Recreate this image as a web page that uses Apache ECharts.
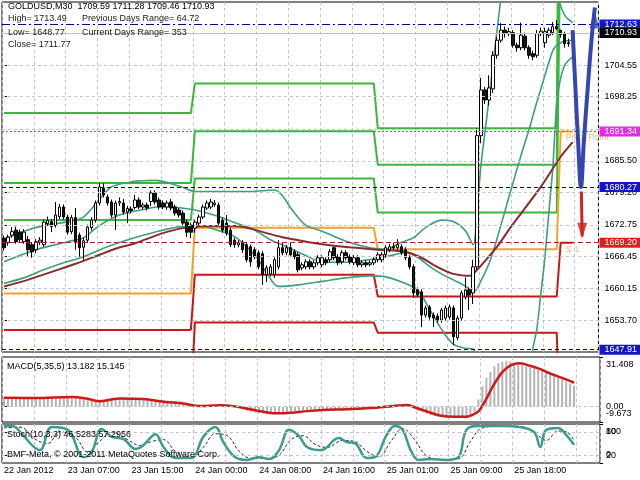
<!DOCTYPE html>
<html><head><meta charset="utf-8">
<script src="https://cdn.jsdelivr.net/npm/echarts@6/dist/echarts.min.js"></script>
<style>html,body{margin:0;padding:0;background:#fff}#c{width:640px;height:480px}</style>
</head><body><div id="c"></div>
<script>
// ---------- data ----------
const timeLabels = ['22 Jan 2012','23 Jan 07:00','23 Jan 15:00','24 Jan 00:00','24 Jan 08:00','24 Jan 16:00','25 Jan 01:00','25 Jan 09:00','25 Jan 18:00','',''];
const slotCount = 150;
const opens = [1670.1,1669.2,1670.7,1671.7,1671.3,1669.4,1669.8,1668.8,1667.8,1669.3,1668.8,1673.0,1673.4,1672.6,1674.4,1676.3,1674.3,1671.4,1674.2,1670.7,1668.3,1669.7,1672.2,1673.7,1677.1,1680.1,1678.3,1677.3,1674.7,1677.1,1677.1,1675.3,1675.9,1676.2,1677.7,1676.3,1676.7,1677.4,1679.1,1677.7,1677.1,1676.3,1677.3,1676.3,1675.7,1675.1,1673.3,1672.7,1672.1,1673.1,1674.3,1676.1,1676.3,1676.8,1676.7,1673.7,1673.1,1671.7,1669.7,1668.8,1669.2,1668.8,1668.4,1667.8,1667.2,1667.0,1662.8,1663.0,1662.8,1664.4,1668.2,1667.2,1668.2,1667.4,1666.8,1664.2,1664.4,1665.4,1664.4,1665.2,1664.8,1665.8,1665.8,1668.2,1666.4,1665.4,1667.2,1666.4,1665.2,1666.2,1664.8,1665.2,1664.9,1665.2,1665.8,1665.8,1666.8,1667.8,1668.4,1668.2,1668.4,1667.8,1666.2,1664.4,1659.8,1659.4,1654.8,1656.4,1654.8,1654.6,1653.8,1654.2,1654.4,1656.2,1650.3,1654.2,1658.4,1659.8,1659.2,1664.4,1690.5,1699.6,1697.6,1699.8,1706.5,1709.5,1711.5,1710.8,1711.0,1708.5,1708.0,1710.3,1708.0,1706.8,1706.5,1710.8,1709.0,1710.5,1711.0,1712.2,1711.5,1710.8,1709.0,1709.59];
const highs = [1670.6,1670.8,1672.3,1672.4,1671.8,1671.9,1670.5,1669.3,1669.9,1670.3,1673.8,1674.4,1673.9,1677.3,1676.9,1676.8,1674.8,1674.7,1676.1,1671.2,1670.2,1672.8,1674.3,1677.6,1681.1,1681.1,1678.8,1677.8,1677.6,1678.2,1677.9,1676.5,1676.4,1678.7,1678.2,1677.2,1677.2,1679.6,1679.6,1678.2,1677.6,1677.6,1677.9,1676.8,1676.1,1675.6,1673.8,1673.2,1673.8,1674.8,1676.8,1677.6,1677.9,1677.7,1677.2,1674.2,1674.7,1672.2,1670.2,1669.7,1669.7,1669.2,1668.8,1668.3,1667.7,1667.5,1664.7,1664.9,1666.3,1669.7,1669.3,1668.8,1669.3,1667.9,1667.3,1665.3,1665.9,1665.9,1665.7,1666.7,1666.7,1666.3,1667.9,1668.4,1666.9,1667.7,1667.7,1666.9,1666.7,1666.7,1665.7,1665.7,1665.7,1666.3,1667.3,1667.3,1668.7,1669.0,1669.2,1669.9,1668.9,1668.3,1666.7,1664.9,1660.3,1659.9,1656.7,1656.8,1655.3,1655.1,1656.2,1656.7,1656.9,1656.7,1654.7,1659.7,1662.3,1660.3,1665.8,1692.0,1702.0,1700.2,1702.5,1707.3,1710.2,1712.9,1712.2,1712.0,1711.5,1709.0,1713.0,1711.0,1708.5,1707.4,1711.5,1712.0,1712.0,1712.0,1713.1,1713.49,1711.53,1711.2,1709.8,1711.28];
const lows = [1667.6,1668.6,1670.2,1669.0,1669.2,1669.0,1666.4,1666.2,1667.1,1668.7,1668.4,1672.5,1671.3,1672.2,1673.9,1673.8,1670.8,1670.9,1667.8,1666.4,1665.8,1669.2,1671.6,1673.2,1676.6,1678.2,1676.6,1674.2,1671.7,1676.5,1674.8,1673.1,1675.0,1675.8,1675.9,1675.8,1675.6,1676.5,1676.8,1675.8,1675.9,1675.7,1675.6,1674.6,1674.2,1672.6,1670.3,1670.1,1671.2,1672.6,1673.9,1675.7,1675.9,1676.3,1672.6,1671.2,1670.6,1668.3,1668.2,1668.3,1667.2,1665.3,1664.4,1665.9,1663.9,1660.8,1661.4,1662.5,1662.2,1663.9,1666.7,1666.7,1666.3,1665.9,1663.3,1663.7,1663.9,1663.9,1663.9,1664.7,1664.3,1664.7,1665.3,1665.7,1664.7,1664.9,1665.7,1664.9,1664.7,1664.3,1664.3,1664.3,1664.5,1664.7,1665.3,1665.3,1666.3,1667.3,1667.8,1667.7,1666.7,1665.7,1663.9,1658.2,1658.3,1652.4,1654.3,1653.9,1652.4,1653.3,1653.3,1653.7,1653.9,1648.77,1649.8,1653.7,1657.9,1655.8,1657.0,1663.8,1689.0,1696.8,1696.5,1699.0,1705.8,1709.0,1710.0,1710.3,1708.0,1707.2,1707.5,1707.5,1705.8,1705.5,1706.0,1710.3,1708.0,1710.0,1710.5,1711.5,1710.0,1708.0,1708.2,1709.46];
const closes = [1668.2,1670.3,1671.4,1669.4,1669.8,1671.3,1667.8,1667.4,1669.4,1669.7,1673.3,1673.6,1672.4,1674.7,1676.3,1674.3,1671.3,1674.2,1669.4,1668.2,1669.6,1672.3,1673.7,1677.1,1680.3,1678.7,1677.1,1674.7,1677.1,1677.4,1675.3,1676.0,1675.6,1677.7,1676.3,1676.7,1676.1,1679.1,1677.3,1676.3,1676.3,1677.1,1676.1,1675.1,1674.7,1673.1,1671.3,1671.3,1673.3,1674.3,1676.3,1677.1,1677.3,1677.1,1673.1,1671.7,1671.1,1668.8,1668.8,1669.2,1667.8,1665.8,1665.4,1666.4,1664.4,1662.8,1664.2,1664.4,1665.8,1668.2,1667.2,1668.2,1666.8,1666.4,1663.8,1664.8,1665.4,1664.4,1665.2,1666.2,1666.2,1665.2,1667.4,1666.2,1665.2,1667.2,1666.2,1665.4,1666.2,1664.8,1665.2,1664.8,1665.2,1665.8,1666.8,1666.8,1668.2,1668.4,1668.2,1668.8,1667.2,1666.2,1664.4,1659.2,1658.8,1654.8,1656.2,1654.4,1654.2,1653.8,1655.8,1656.2,1656.4,1650.5,1654.2,1659.2,1659.8,1658.8,1664.4,1690.5,1699.6,1697.6,1700.0,1706.5,1709.5,1711.5,1710.8,1711.2,1708.5,1708.0,1710.5,1708.0,1706.5,1706.2,1710.8,1711.3,1711.2,1711.5,1712.2,1711.77,1710.6,1708.8,1708.8,1710.93];
// moving average and bollinger bands, read at sampled bars [bar, price]
const maLine = [[0,1660.5],[6,1661.8],[12,1663.4],[18,1665.0],[24,1666.8],[28,1668.0],[33,1669.1],[40,1671.1],[45,1672.1],[51,1672.5],[58,1672.5],[62,1672.0],[66,1671.1],[70,1670.3],[74,1669.7],[80,1668.9],[87,1668.3],[94,1667.8],[101,1667.4],[105,1666.2],[108,1664.8],[111,1663.6],[113,1663.0],[117,1662.6],[119,1663.8],[121,1665.6],[124,1668.4],[127,1671.8],[130,1675.0],[135,1680.3],[140,1686.3],[143,1689.2]];
const bandUpper = [[0,1669.9],[5,1671.5],[10,1672.6],[16,1673.4],[20,1674.3],[24,1677.8],[27,1680.3],[32,1681.3],[38,1681.6],[44,1680.5],[48,1679.4],[56,1679.4],[62,1679.4],[68,1679.7],[70,1678.6],[72,1676.2],[74,1674.2],[76,1672.6],[80,1671.5],[86,1669.5],[92,1668.2],[96,1667.9],[100,1669.3],[103,1670.2],[106,1672.2],[110,1673.7],[113,1673.4],[116,1671.6],[118,1668.8],[119,1676],[120,1685],[121,1691.5],[122,1698],[123,1705],[124,1711.5],[125,1718],[126,1723],[130,1728],[135,1728],[138,1726],[139,1719],[140,1716.3],[141,1714.5],[142,1713.6],[143,1713.0]];
const bandMiddle = [[0,1665.4],[8,1667.8],[16,1669.4],[20,1670.2],[24,1672.6],[29,1674.7],[35,1675.8],[40,1676.4],[48,1675.7],[54,1674.4],[58,1673.2],[63,1671.7],[67,1669.8],[71,1668.4],[76,1666.6],[80,1665.4],[86,1665.3],[90,1665.6],[96,1666.4],[101,1667.2],[104,1666.3],[107,1664.5],[110,1663.0],[113,1661.8],[116,1660.6],[118,1659.5],[119,1660.1],[120,1661.7],[121,1663.3],[122,1665.1],[123,1667.4],[124,1670.0],[125,1672.8],[126,1675.5],[127,1678.4],[128,1681.1],[129,1683.8],[130,1686.5],[131,1689.1],[132,1691.6],[133,1694.4],[134,1697.2],[135,1699.8],[136,1702.4],[137,1705.0],[138,1707.4],[139,1708.5],[140,1709.0],[141,1709.4],[142,1709.4],[143,1709.5]];
const bandLower = [[0,1661.1],[5,1662.2],[10,1663.8],[15,1665.2],[20,1666.4],[26,1668.4],[32,1670.0],[37,1671.1],[45,1672.4],[50,1672.4],[54,1671.6],[58,1670.4],[61,1668.4],[64,1665.8],[66,1663.2],[69,1660.5],[74,1660.8],[80,1661.5],[86,1662.2],[92,1662.6],[96,1662.4],[100,1661.4],[104,1659.8],[107,1656.0],[110,1652.0],[113,1649.0],[116,1648.2],[118,1648.0],[119,1645.4],[120,1638.7],[122,1630],[126,1620],[130,1625],[132,1638],[133,1648],[134,1652],[135,1659],[136,1666],[137,1675],[138,1684],[139,1697],[140,1702],[141,1704.5],[142,1705.5],[143,1706.2]];
// daily pivot levels (one value per day)
const dayRanges = [[0,47],[48,93],[94,139],[140,143]];
const pivR3 = [1695.0,1700.9,1692.0,1798.6];
const pivR2 = [1681.1,1691.4,1684.7,1756.1];
const pivR1 = [1673.7,1682.0,1675.2,1733.9];
const pivP  = [1659.1,1672.2,1667.9,1691.34];
const pivS1 = [1651.85,1662.8,1658.5,1669.2];
const pivS2 = [1637.3,1653.3,1651.3,1626.6];
const pivS3 = [1622.0,1643.6,1641.0,1604.5];
// MACD
const macdHist = [6.0,6.1,6.2,6.3,6.2,6.0,5.8,5.6,5.4,5.3,5.5,5.8,6.0,6.2,6.4,6.5,
 6.6,6.5,6.2,5.7,5.1,4.6,4.1,3.7, 3.5,3.8,4.3,4.9,5.4,5.6,5.5,5.3,
 5.0,4.9,4.8,4.7,4.6,4.6,4.5,4.3,4.1,3.9,3.7,3.5, 3.1,2.5,1.7,1.0,0.5,0.4,0.6,1.0,1.3,1.5,
 1.4,1.1,0.6,0.1,-0.4,-1.1,-1.8,-2.5,-3.1,-3.7, -4.1,-4.4,-4.7,-4.8,-4.8,-4.5,-4.0,-3.5,-3.1,-2.8,
 -2.5,-2.2,-2.0,-1.8,-1.7,-1.7,-1.8,-1.9,-1.9,-1.8, -1.7,-1.6,-1.6,-1.5,-1.4,-1.2,-1.0,-0.7,-0.4,-0.1,
 0.3,0.7,1.0,1.3,1.5,1.6,1.5,1.1,0.2,-1.2, -2.5,-3.4,-4.5,-5.4,-5.9,-6.3,-6.5,-6.6,-6.5,-6.5,-6.6,-6.4,-6.0,-5.0,-3.3,
 4.6,12.9,18.1,22.0,25.5,27.5,28.5,29.0,28.6,27.8,27.0,26.3,25.6,24.9,24.2,23.3,22.6,21.8,21.0,20.2,19.0,17.6,16.0,14.6,13.182];
const macdSignal = [[0,5.6],[8,5.5],[17,6.2],[21,5.0],[24,3.4],[27,4.6],[29,5.2],[35,4.8],[40,3.1],[45,2.0],[49,0.4],[54,0.9],[58,0.2],[62,-1.8],[66,-3.6],[69,-4.2],[72,-3.8],[76,-2.8],[80,-2.1],[86,-1.6],[92,-0.8],[96,0],[99,0.7],[101,1.0],[104,-1.3],[107,-3.8],[110,-5.9],[113,-6.3],[116,-6.3],[118,-4.5],[119,-3.0],[120,0.5],[121,5],[122,10],[123,14.5],[124,18.5],[125,21.8],[126,24.2],[127,26.0],[128,27.0],[129,27.5],[130,27.3],[132,25.8],[134,24.2],[137,21.0],[140,18.2],[143,15.145]];
// Stochastic
const stochMain = [[0,95],[2,95],[4.5,75],[7,46],[9,33],[12,92],[16,85],[20,15],[22,28],[24.5,87],[27,67],[30,61],[33,36],[35,46],[38,74],[40,41],[43,13],[47,13],[50,67],[53,92],[55,54],[58,15],[61,8],[64,15],[66.5,10],[69,33],[71.5,85],[74,69],[76,41],[79.5,33],[84,64],[86,54],[88,51],[91,13],[93,15],[96,72],[98,95],[100,85],[102,33],[104,8],[107,10],[111,8],[114,15],[116,85],[119,95],[125,95],[129.5,92],[133,79],[134.5,41],[136,85],[139,90],[141,72],[143,46.5283]];
const stochSignal = [[0,90],[4,92],[8,60],[11,50],[14,80],[18,65],[21,28],[24,55],[27,78],[31,60],[34,45],[37,55],[40,60],[43,30],[47,15],[50,40],[53,75],[56,70],[59,30],[62,12],[66,12],[69,20],[72,60],[75,70],[78,48],[81,40],[85,58],[88,55],[91,30],[94,16],[97,55],[100,88],[103,60],[106,18],[110,9],[114,11],[117,55],[120,90],[126,95],[130,93],[134,70],[136,58],[139,82],[141,80],[143,57.2956]];
// price axis tick labels and horizontal grid levels
const priceTicks = [1653.70,1660.15,1666.45,1672.75,1679.20,1685.50,1698.25,1704.55];
const priceGrid = [1653.70,1660.15,1666.45,1672.75,1679.20,1685.50,1691.80,1698.25,1704.55];
const macdMin = -9.673, macdMax = 31.408;
const macdMidTicks = [0];
const stochMidTicks = [20, 80];
// drawn objects (analyst arrows) in [bar, price]
const blueArrow = [[143,1711.5],[143.7,1700],[144.4,1689],[145.1,1680.3],[145.8,1689],[146.8,1700],[147.8,1710],[148.6,1716]];
const redArrow = [[145.2,1679.4],[145.4,1670.5]];

// ---------- chart ----------
const FONT = 'Liberation Sans';
const FS = 9;
const cats = Array.from({length: slotCount}, (_, i) => String(i));
const stepPts = lv => dayRanges.flatMap((d, k) => [[d[0], lv[k]], [d[1], lv[k]]]);
const GL = 2, GR = 40;
const vSplit = {show: true, interval: 7, lineStyle: {color: '#c4c4c4', type: [3, 3], width: 1}};
function catAxis(gi, showLabels) {
  return {type: 'category', gridIndex: gi, data: cats, boundaryGap: true,
    axisLine: {show: false}, axisTick: {show: false}, splitLine: vSplit,
    axisLabel: showLabels ? {show: true, interval: 0, hideOverlap: false, align: 'left', margin: 3,
      fontFamily: FONT, fontSize: FS, color: '#000',
      formatter: (v, i) => (i % 16 === 0 ? (timeLabels[i / 16] || '') : '')} : {show: false}};
}
function valX(gi) { return {type: 'value', gridIndex: gi, min: -0.5, max: slotCount - 0.5, show: false}; }
const lineS = (name, data, color, width, extra) => Object.assign({
  name, type: 'line', xAxisIndex: 1, yAxisIndex: 0, data, showSymbol: false, symbol: 'none',
  lineStyle: {color, width}, silent: true, z: 3}, extra || {});
// inner ticks of a small pane
function paneAxis(gi, mn, mx, ticks, fmt) {
  return {type: 'value', gridIndex: gi, position: 'right', min: mn, max: mx, splitLine: {show: false},
    axisLine: {show: false}, axisTick: {show: true, length: 3, customValues: ticks, lineStyle: {color: '#000'}},
    axisLabel: {customValues: ticks, showMinLabel: true, showMaxLabel: true, hideOverlap: false, margin: 6,
      fontFamily: FONT, fontSize: FS, color: '#000', formatter: fmt}};
}
// pane min / max labels, pushed inside the pane as the terminal does
const edgeRich = {t: {padding: [16, 0, 0, 0], fontFamily: FONT, fontSize: FS, color: '#000'},
                  b: {padding: [0, 0, 16, 0], fontFamily: FONT, fontSize: FS, color: '#000'}};
function edgeAxis(gi, mn, mx, fmt) {
  return {type: 'value', gridIndex: gi, position: 'right', min: mn, max: mx, splitLine: {show: false},
    axisLine: {show: false}, axisTick: {show: true, length: 3, customValues: [mn, mx], lineStyle: {color: '#000'}},
    axisLabel: {customValues: [mn, mx], showMinLabel: true, showMaxLabel: true, hideOverlap: false, margin: 6,
      fontFamily: FONT, fontSize: FS, color: '#000', rich: edgeRich,
      formatter: v => (v === mx ? '{t|' + fmt(v) + '}' : '{b|' + fmt(v) + '}')}};
}

const specialLines = [
  {v: 1712.63, color: '#00008b', type: [8, 3, 2, 3], box: '#1414c8'},
  {v: 1710.93, color: '#c0c0c0', type: 'solid', box: '#000000'},
  {v: 1691.34, color: '#d040d0', type: [2, 2], box: '#e030e0'},
  {v: 1680.27, color: '#00008b', type: [4, 3], box: '#1414c8'},
  {v: 1669.20, color: '#b22222', type: [5, 3], box: '#e02020'},
  {v: 1647.91, color: '#00008b', type: [4, 3], box: '#1414c8'}
];
const txtFont = FS + 'px "Liberation Sans"';

const option = {
  animation: false,
  backgroundColor: '#ffffff',
  grid: [
    {left: GL, right: GR, top: 2, height: 350, show: true, borderColor: '#000', borderWidth: 1},
    {left: GL, right: GR, top: 357, height: 65, show: true, borderColor: '#000', borderWidth: 1},
    {left: GL, right: GR, top: 424, height: 39, show: true, borderColor: '#000', borderWidth: 1}
  ],
  xAxis: [catAxis(0, false), valX(0), catAxis(1, false), valX(1), catAxis(2, true), valX(2)],
  yAxis: [
    {type: 'value', gridIndex: 0, position: 'right', min: 1647.45, max: 1717.1, splitLine: {show: false},
      axisLine: {show: false}, axisTick: {show: true, length: 3, customValues: priceTicks, lineStyle: {color: '#000'}},
      axisLabel: {customValues: priceTicks, formatter: v => v.toFixed(2), margin: 6, fontFamily: FONT, fontSize: FS, color: '#000'}},
    paneAxis(1, macdMin, macdMax, macdMidTicks, v => (v === 0 ? '0.00' : String(v))),
    paneAxis(2, 0, 100, stochMidTicks, v => String(v)),
    edgeAxis(1, macdMin, macdMax, v => String(v)),
    edgeAxis(2, 0, 100, v => String(v))
  ],
  series: [
    // horizontal grid lines (price levels)
    lineS('grid', [[-10, 1680]], '#000', 0, {z: 1, markLine: {silent: true, symbol: 'none', label: {show: false},
      lineStyle: {color: '#c4c4c4', type: [3, 3], width: 1}, data: priceGrid.map(v => ({yAxis: v}))}}),
    // pivots
    lineS('R3', stepPts(pivR3), '#3cb83c', 2), lineS('R2', stepPts(pivR2), '#3cb83c', 2), lineS('R1', stepPts(pivR1), '#3cb83c', 2),
    lineS('P', stepPts(pivP), '#f0a428', 2),
    lineS('S1', stepPts(pivS1), '#c81818', 2), lineS('S2', stepPts(pivS2), '#c81818', 2), lineS('S3', stepPts(pivS3), '#c81818', 2),
    // bands and MA
    lineS('upper', bandUpper, '#3e9e7e', 1.6, {smooth: 0.3}),
    lineS('middle', bandMiddle, '#3e9e7e', 1.6, {smooth: 0.3}),
    lineS('lower', bandLower, '#3e9e7e', 1.6, {smooth: 0.3}),
    lineS('MA', maLine, '#8b2c2c', 2, {smooth: 0.3}),
    // candles
    {name: 'GOLDUSD', type: 'candlestick', xAxisIndex: 0, yAxisIndex: 0, barWidth: 3, z: 4, silent: true,
      data: opens.map((o, i) => [o, closes[i], lows[i], highs[i]]),
      itemStyle: {color: '#ffffff', color0: '#0d1f0d', borderColor: '#000000', borderColor0: '#000000', borderWidth: 1}},
    // pivot texts
    {type: 'scatter', xAxisIndex: 1, yAxisIndex: 0, symbolSize: 0, z: 3, silent: true,
      data: [{value: [141.3, pivP[3]], name: 'Pivot Point'}, {value: [141.3, pivS1[3]], name: 'S 1'}],
      label: {show: true, position: [0, 2], align: 'left', verticalAlign: 'top', formatter: p => p.name,
        color: '#e6a868', fontFamily: FONT, fontSize: FS}},
    // drawn arrows
    lineS('blueArrow', blueArrow, '#3546b2', 4, {smooth: 0.4, z: 6}),
    lineS('redArrow', redArrow, '#d42020', 3, {z: 6}),
    {type: 'scatter', xAxisIndex: 1, yAxisIndex: 0, z: 6, silent: true,
      data: [{value: [148.5, 1713.6], symbol: 'triangle', symbolSize: [10, 18], itemStyle: {color: '#3546b2'}},
             {value: [145.4, 1671.6], symbol: 'triangle', symbolRotate: 180, symbolSize: [10, 16], itemStyle: {color: '#d42020'}}]},
    // special horizontal lines with price boxes
    lineS('levels', [[-10, 1680]], '#000', 0, {z: 8, markLine: {silent: true, symbol: 'none',
      data: specialLines.map(s => ({yAxis: s.v, lineStyle: {color: s.color, type: s.type, width: 1},
        label: {show: true, position: 'end', distance: 1, formatter: s.v.toFixed(2), color: '#ffffff',
          backgroundColor: s.box, padding: [1, 3, 0, 5], fontFamily: FONT, fontSize: FS}}))}}),
    // MACD
    {name: 'MACD', type: 'bar', xAxisIndex: 2, yAxisIndex: 1, data: macdHist, barWidth: 2, silent: true,
      itemStyle: {color: '#b4b4b4'},
      markLine: {silent: true, symbol: 'none', label: {show: false}, lineStyle: {color: '#c4c4c4', type: [3, 3], width: 1}, data: [{yAxis: 0}]}},
    {name: 'Signal', type: 'line', xAxisIndex: 3, yAxisIndex: 1, data: macdSignal, showSymbol: false, symbol: 'none',
      smooth: 0.35, lineStyle: {color: '#cc1a1a', width: 2.5}, silent: true},
    // Stochastic
    {name: 'StochSig', type: 'line', xAxisIndex: 5, yAxisIndex: 2, data: stochSignal, showSymbol: false, symbol: 'none',
      smooth: 0.4, lineStyle: {color: '#303030', width: 1, type: [3, 2]}, silent: true,
      markLine: {silent: true, symbol: 'none', label: {show: false}, lineStyle: {color: '#c4c4c4', type: [3, 3], width: 1}, data: [{yAxis: 20}, {yAxis: 80}]}},
    {name: 'Stoch', type: 'line', xAxisIndex: 5, yAxisIndex: 2, data: stochMain, showSymbol: false, symbol: 'none',
      smooth: 0.4, lineStyle: {color: '#3c9c8e', width: 2.5}, silent: true}
  ],
  graphic: [
    {type: 'text', left: 8, top: 2, z: 20, style: {text: 'GOLDUSD,M30  1709.59 1711.28 1709.46 1710.93', font: txtFont, fill: '#000'}},
    {type: 'text', left: 8, top: 14, z: 20, style: {text: 'High= 1713.49', font: txtFont, fill: '#202020'}},
    {type: 'text', left: 82, top: 14, z: 20, style: {text: 'Previous Days Range= 64.72', font: txtFont, fill: '#202020'}},
    {type: 'text', left: 8, top: 28, z: 20, style: {text: 'Low= 1648.77', font: txtFont, fill: '#202020'}},
    {type: 'text', left: 82, top: 28, z: 20, style: {text: 'Current Days Range= 353', font: txtFont, fill: '#202020'}},
    {type: 'text', left: 8, top: 40, z: 20, style: {text: 'Close= 1711.77', font: txtFont, fill: '#202020'}},
    {type: 'text', left: 7, top: 362, z: 20, style: {text: 'MACD(5,35,5) 13.182 15.145', font: txtFont, fill: '#000'}},
    {type: 'text', left: 7, top: 430, z: 20, style: {text: 'Stoch(10,3,3) 46.5283 57.2956', font: txtFont, fill: '#000'}},
    {type: 'text', left: 7, top: 450, z: 20, style: {text: 'BMF-Meta, \u00a9 2001-2011 MetaQuotes Software Corp.', font: txtFont, fill: '#000'}}
  ]
};
const chart = echarts.init(document.getElementById('c'), null, {renderer: 'canvas'});
chart.setOption(option);
</script></body></html>
